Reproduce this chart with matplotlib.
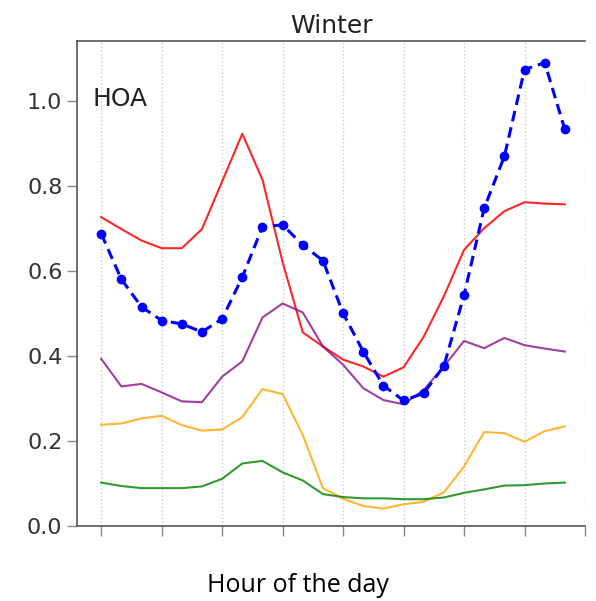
import matplotlib
matplotlib.use("Agg")
import matplotlib.pyplot as plt
import numpy as np

hours = list(range(24))
blue = [0.687, 0.580, 0.515, 0.483, 0.475, 0.456, 0.487, 0.585, 0.703, 0.708, 0.660, 0.624,
        0.500, 0.410, 0.330, 0.295, 0.312, 0.376, 0.543, 0.747, 0.869, 1.073, 1.089, 0.932]
red = [0.726, 0.698, 0.671, 0.653, 0.653, 0.698, 0.810, 0.922, 0.814, 0.620, 0.455, 0.422,
       0.391, 0.375, 0.351, 0.373, 0.445, 0.540, 0.649, 0.700, 0.740, 0.761, 0.758, 0.756]
purple = [0.393, 0.328, 0.334, 0.314, 0.293, 0.291, 0.351, 0.387, 0.490, 0.523, 0.502, 0.422,
          0.379, 0.324, 0.296, 0.286, 0.320, 0.375, 0.435, 0.418, 0.442, 0.425, 0.417, 0.410]
orange = [0.238, 0.241, 0.253, 0.259, 0.237, 0.224, 0.227, 0.256, 0.322, 0.310, 0.214, 0.089,
          0.064, 0.047, 0.041, 0.051, 0.057, 0.079, 0.140, 0.221, 0.218, 0.198, 0.223, 0.234]
green = [0.102, 0.094, 0.089, 0.089, 0.089, 0.093, 0.111, 0.147, 0.153, 0.126, 0.107, 0.075,
         0.068, 0.065, 0.065, 0.063, 0.063, 0.067, 0.078, 0.086, 0.095, 0.096, 0.100, 0.102]
xticks = list(range(0, 25, 3))
yticks = [0.0, 0.2, 0.4, 0.6, 0.8, 1.0]

fig = plt.figure(figsize=(5.96, 6.01), dpi=100)
ax = fig.add_axes([77/596, 1-526/601, (585-77)/596, (526-41)/601])

ax.plot(hours, red, color='red', lw=1.5, alpha=0.85)
ax.plot(hours, purple, color='purple', lw=1.5, alpha=0.75)
ax.plot(hours, orange, color='orange', lw=1.5, alpha=0.8)
ax.plot(hours, green, color='green', lw=1.5, alpha=0.8)
ax.plot(hours, blue, color='blue', lw=2.2, ls='--', marker='o', ms=6, dashes=(3.5, 2))

ax.set_xlim(-1.2, 24)
ax.set_ylim(0, 1.14)
ax.set_xticks(xticks)
ax.set_xticklabels([])
ax.set_yticks(yticks)
ax.set_yticklabels([f"{v:.1f}" for v in yticks])
ax.tick_params(axis='both', length=7, width=1, color='#888888', labelsize=16, labelcolor='#333333')
ax.xaxis.grid(True, color='#cccccc', ls=':', lw=1)
ax.set_axisbelow(True)
for s in ['left', 'bottom', 'top']:
    ax.spines[s].set_color('#555555')
    ax.spines[s].set_linewidth(1.2)
ax.spines['right'].set_visible(False)

ax.text(0.03, 0.88, "HOA", transform=ax.transAxes, fontsize=18, color='#222222', ha='left', va='center')
ax.set_title("Winter", fontsize=18, color='#222222', pad=6)
fig.text(0.5, 1-585/601, "Hour of the day", ha='center', va='center', fontsize=18,
         family=['Open Sans', 'DejaVu Sans'], color='black')

fig.savefig("out.png", dpi=100)
